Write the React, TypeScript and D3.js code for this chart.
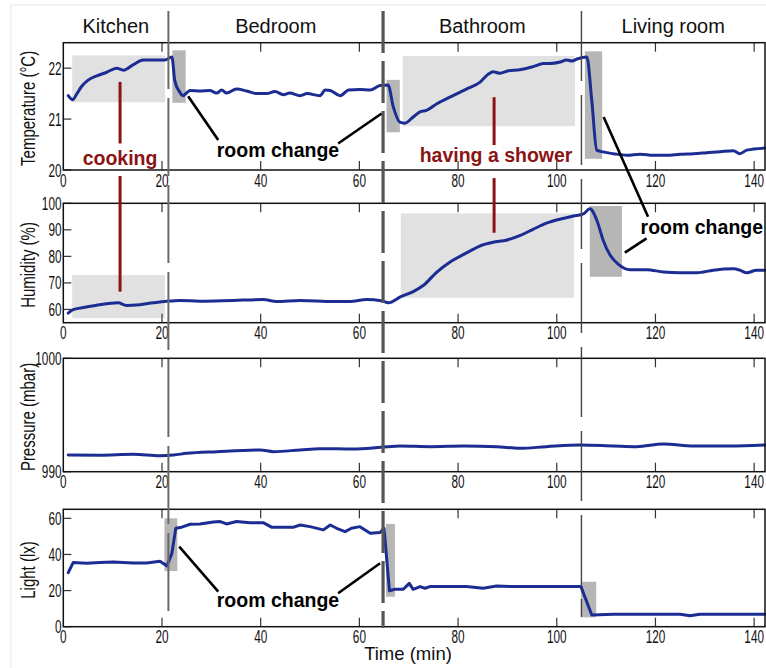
import { useEffect } from 'react';
import * as d3 from 'd3';

// time axis (minutes)
const timeDomain = [0, 142.2];
const timeTicks = [0, 20, 40, 60, 80, 100, 120, 140];
const rooms = ['Kitchen', 'Bedroom', 'Bathroom', 'Living room'];
const roomChanges = [21.3, 64.8, 105.0];

// [minute, value] samples
const temperature: [number, number][] = [
  [1.0, 21.46], [1.9, 21.38], [2.7, 21.49], [3.7, 21.64], [5.1, 21.77], [6.8, 21.85], [8.8, 21.92],
  [10.8, 22.0], [12.2, 21.96], [14.2, 22.07], [16.2, 22.16], [18.2, 22.16], [20.6, 22.16], [22.0, 22.22],
  [22.6, 21.75], [23.6, 21.53], [24.2, 21.46], [25.7, 21.56], [27.7, 21.55], [29.7, 21.56], [31.1, 21.51],
  [32.1, 21.57], [33.1, 21.51], [35.1, 21.59], [37.2, 21.55], [39.2, 21.5], [41.2, 21.5], [42.9, 21.54],
  [44.6, 21.48], [45.9, 21.51], [48.0, 21.46], [49.4, 21.5], [52.0, 21.46], [53.1, 21.57], [54.1, 21.56],
  [56.1, 21.46], [57.8, 21.57], [60.1, 21.58], [62.2, 21.57], [64.2, 21.66], [65.8, 21.67], [66.9, 21.23],
  [68.2, 20.94], [69.2, 20.92], [70.9, 21.04], [72.3, 21.14], [73.6, 21.17], [75.7, 21.3], [79.0, 21.46],
  [81.7, 21.59], [84.4, 21.72], [86.1, 21.88], [87.1, 21.93], [88.5, 21.9], [90.2, 21.95], [92.5, 21.97],
  [95.2, 22.03], [97.3, 22.09], [98.6, 22.09], [100.7, 22.12], [102.0, 22.16], [103.1, 22.14], [104.1, 22.18],
  [106.1, 22.22], [107.1, 21.36], [108.1, 20.39], [109.1, 20.36], [111.5, 20.32], [114.2, 20.29], [116.9, 20.31],
  [119.6, 20.29], [122.3, 20.29], [125.0, 20.31], [127.7, 20.32], [130.4, 20.34], [133.1, 20.36], [135.8, 20.38],
  [137.1, 20.32], [138.5, 20.39], [142.2, 20.43],
];

const humidity: [number, number][] = [
  [1.0, 58.6], [2.0, 59.9], [4.7, 60.9], [7.4, 61.8], [11.1, 62.5], [12.8, 61.5], [15.5, 61.8], [18.2, 62.5],
  [21.0, 63.1], [23.6, 63.4], [27.7, 63.1], [34.4, 63.4], [40.5, 63.7], [43.2, 63.0], [48.0, 63.4], [54.7, 63.0],
  [58.1, 63.0], [61.5, 63.7], [64.4, 63.3], [65.9, 62.5], [68.3, 64.7], [71.0, 66.8], [73.0, 69.1], [75.7, 74.1],
  [78.4, 77.9], [81.7, 81.3], [84.4, 83.9], [87.1, 85.3], [89.8, 86.1], [92.5, 87.8], [95.2, 90.2], [97.9, 92.5],
  [100.6, 94.0], [103.4, 95.2], [105.4, 96.0], [106.7, 97.9], [108.1, 93.7], [109.4, 86.1], [110.8, 80.5],
  [112.5, 77.0], [114.8, 75.0], [118.2, 75.0], [121.6, 74.1], [125.0, 73.8], [128.4, 73.8], [131.7, 74.8],
  [135.8, 75.3], [137.1, 74.8], [138.5, 73.8], [140.5, 74.8], [142.2, 74.8],
];

const pressure: [number, number][] = [
  [1.0, 991.47], [7.4, 991.45], [14.2, 991.53], [19.6, 991.41], [22.3, 991.47], [25.0, 991.62], [31.1, 991.77],
  [39.9, 991.92], [42.6, 991.77], [48.0, 991.92], [52.0, 992.03], [58.8, 992.0], [64.4, 992.15], [68.3, 992.27],
  [74.4, 992.21], [81.1, 992.27], [87.8, 992.21], [92.5, 992.06], [97.9, 992.21], [104.7, 992.36], [111.5, 992.27],
  [116.2, 992.21], [121.6, 992.44], [127.7, 992.27], [135.1, 992.27], [142.2, 992.36],
];

const light: [number, number][] = [
  [1.0, 29.9], [2.0, 35.5], [4.7, 35.1], [7.4, 35.5], [10.1, 35.8], [14.2, 35.3], [16.9, 35.3], [19.6, 36.2],
  [21.0, 33.6], [22.0, 40.6], [22.8, 54.5], [24.0, 55.1], [25.7, 56.7], [27.7, 56.9], [30.4, 58.0], [31.8, 58.2],
  [33.1, 56.9], [35.1, 58.2], [37.8, 57.6], [40.5, 57.6], [42.2, 55.1], [45.3, 55.1], [46.7, 55.1], [48.0, 56.3],
  [50.0, 55.4], [52.7, 53.6], [54.1, 56.3], [55.4, 54.5], [57.1, 52.6], [58.4, 54.5], [60.1, 55.4], [62.2, 51.7],
  [64.2, 52.1], [65.0, 54.5], [66.1, 19.9], [67.2, 20.7], [68.9, 20.7], [70.1, 24.0], [70.9, 20.7], [72.3, 22.2],
  [73.3, 21.3], [74.3, 22.2], [77.7, 22.2], [81.7, 22.2], [85.1, 21.3], [87.8, 22.5], [91.2, 22.2], [94.6, 22.2],
  [97.9, 22.2], [104.9, 22.2], [107.1, 6.5], [111.5, 6.9], [118.2, 6.9], [125.0, 6.9], [127.0, 6.1], [129.0, 6.9],
  [142.2, 6.9],
];

const tempTicks = [20, 21, 22];
const humidityTicks = [60, 70, 80, 90, 100];
const pressureTicks = [990, 1000];
const lightTicks = [0, 20, 40, 60];

// shaded windows: [panel, t0, t1, v0, v1]
const activityWindows = [
  [0, 1.8, 20.6, 21.33, 22.25],
  [0, 68.8, 103.7, 20.86, 22.24],
  [1, 1.8, 20.6, 56.7, 73.0],
  [1, 68.4, 103.5, 64.4, 96.2],
];
const transitionWindows = [
  [0, 22.1, 24.8, 21.32, 22.35],
  [0, 65.5, 68.2, 20.74, 21.77],
  [0, 105.7, 109.2, 20.22, 22.33],
  [1, 106.7, 113.2, 72.3, 99.0],
  [3, 20.5, 23.1, 30.8, 60.0],
  [3, 65.4, 67.2, 16.6, 56.9],
  [3, 104.9, 108.0, 5.2, 24.9],
];

// callouts: [panel, t, v] endpoints
const roomChangeLinks = [
  [[0, 25.3, 21.45], [0, 31.4, 20.59]],
  [[0, 64.5, 21.11], [0, 55.7, 20.52]],
  [[0, 109.5, 21.04], [1, 118.5, 94.96]],
  [[1, 113.8, 81.4], [1, 118.2, 86.8]],
  [[3, 23.5, 44.3], [3, 31.4, 19.4]],
  [[3, 64.2, 35.1], [3, 55.7, 18.5]],
];
const roomChangeLabels = [[0, 43.5, 20.25], [1, 129.4, 88.4], [3, 43.5, 10.9]];
const activityLinks = [
  [[0, 11.5, 21.73], [0, 11.5, 20.52]],
  [[1, 11.5, 110.3], [1, 11.5, 66.7]],
  [[0, 87.3, 21.43], [0, 87.3, 20.49]],
  [[1, 87.3, 109.5], [1, 87.3, 88.9]],
];
const activityLabels: [string, number, number, number][] = [
  ['cooking', 0, 11.5, 20.1],
  ['having a shower', 0, 87.7, 20.16],
];

const FONT = 'Liberation Sans, Arial, Helvetica, sans-serif';
const LINE = '#1b2d92';
const RED = '#8a1414';

function Narrow({ x, y, size, sx = 0.62, anchor = 'middle', rotate = 0, children }: any) {
  return (
    <text
      transform={`translate(${x},${y}) rotate(${rotate}) scale(${sx},1)`}
      fontFamily={FONT}
      fontSize={size}
      textAnchor={anchor}
      fill="#111"
    >
      {children}
    </text>
  );
}

export default function App() {
  useEffect(() => {
    document.body.style.margin = '0';
  }, []);

  const width = 766;
  const height = 668;
  const left = 63.3;
  const right = 765;

  const x = d3.scaleLinear().domain(timeDomain).range([left, right]);

  const panels = [
    { top: 42.7, bottom: 170, data: temperature, domain: [20, 22.5], ticks: tempTicks, title: 'Temperature (°C)', smooth: true },
    { top: 203.3, bottom: 322.7, data: humidity, domain: [55, 100], ticks: humidityTicks, title: 'Humidity (%)', smooth: true },
    { top: 358.3, bottom: 471.7, data: pressure, domain: [990, 1000], ticks: pressureTicks, title: 'Pressure (mbar)', smooth: true },
    { top: 509.3, bottom: 626.7, data: light, domain: [0, 65], ticks: lightTicks, title: 'Light (lx)', smooth: false },
  ];
  const ys = panels.map(p => d3.scaleLinear().domain(p.domain).range([p.bottom, p.top]));
  const pt = (p: any) => [x(p[1]), ys[p[0]](p[2])];

  const dividerStyles = [
    { stroke: '#6a6a6a', width: 2, dash: '78 9', y1: 11, y2: 616 },
    { stroke: '#555', width: 3.2, dash: '42 8', y1: 11, y2: 628 },
    { stroke: '#444', width: 1.4, dash: '70 14', y1: 11, y2: 617 },
  ];

  const roomEdges = [0, ...roomChanges, timeDomain[1]];

  return (
    <svg width={width} height={height} style={{ display: 'block', background: '#fff' }}>
      <rect x={11} y={5} width={800} height={700} fill="none" stroke="#e8e8e8" strokeWidth={1} />

      {/* room labels */}
      {rooms.map((r, i) => (
        <text
          key={r}
          x={x((roomEdges[i] + roomEdges[i + 1]) / 2)}
          y={33}
          textAnchor="middle"
          fontFamily={FONT}
          fontSize={20}
          fill="#111"
        >
          {r}
        </text>
      ))}

      {panels.map((p, i) => {
        const y = ys[i];
        const line = d3.line<[number, number]>()
          .x(d => x(d[0]))
          .y(d => y(d[1]))
          .curve(p.smooth ? d3.curveMonotoneX : d3.curveLinear);
        return (
          <g key={p.title}>
            {activityWindows.filter(w => w[0] === i).map((w, k) => (
              <rect key={'a' + k} x={x(w[1])} y={y(w[4])} width={x(w[2]) - x(w[1])}
                height={y(w[3]) - y(w[4])} fill="#e1e1e1" />
            ))}
            {transitionWindows.filter(w => w[0] === i).map((w, k) => (
              <rect key={'t' + k} x={x(w[1])} y={y(w[4])} width={x(w[2]) - x(w[1])}
                height={y(w[3]) - y(w[4])} fill="#b6b6b6" />
            ))}

            {/* ticks */}
            {timeTicks.filter(t => t > 0).map(t => (
              <g key={t} stroke="#333" strokeWidth={1.2}>
                <line x1={x(t)} x2={x(t)} y1={p.top} y2={p.top + 9} />
                <line x1={x(t)} x2={x(t)} y1={p.bottom} y2={p.bottom - 9} />
              </g>
            ))}
            {p.ticks.map(v => (
              <line key={v} x1={left} x2={left + 8} y1={y(v)} y2={y(v)} stroke="#333" strokeWidth={1.2} />
            ))}

            <path d={line(p.data as [number, number][]) || ''} fill="none" stroke={LINE}
              strokeWidth={3} strokeLinejoin="round" strokeLinecap="round" />

            <rect x={left} y={p.top} width={right - left} height={p.bottom - p.top}
              fill="none" stroke="#111" strokeWidth={1.5} />

            {timeTicks.map(t => (
              <Narrow key={t} x={x(t)} y={p.bottom + 16.5} size={19}>{t}</Narrow>
            ))}
            {p.ticks.map(v => (
              <Narrow key={v} x={61.5} y={y(v) + 6.5} size={19} anchor="end">{v}</Narrow>
            ))}
            <Narrow x={35} y={(p.top + p.bottom) / 2 + 2} size={20} sx={0.75} rotate={-90}>{p.title}</Narrow>
          </g>
        );
      })}

      {/* room change dividers */}
      {roomChanges.map((t, i) => {
        const s = dividerStyles[i];
        return (
          <line key={t} x1={x(t)} x2={x(t)} y1={s.y1} y2={s.y2} stroke={s.stroke}
            strokeWidth={s.width} strokeDasharray={s.dash} />
        );
      })}

      {/* activity callouts */}
      {activityLinks.map((l, k) => {
        const a = pt(l[0]);
        const b = pt(l[1]);
        return <line key={k} x1={a[0]} y1={a[1]} x2={b[0]} y2={b[1]} stroke={RED} strokeWidth={3} />;
      })}
      {activityLabels.map(([label, p, t, v]) => (
        <text key={label} x={x(t)} y={ys[p](v)} textAnchor="middle" fontFamily={FONT}
          fontWeight="bold" fontSize={19.5} fill={RED}>{label}</text>
      ))}

      {/* room change callouts */}
      {roomChangeLinks.map((l, k) => {
        const a = pt(l[0]);
        const b = pt(l[1]);
        return <line key={k} x1={a[0]} y1={a[1]} x2={b[0]} y2={b[1]} stroke="#000" strokeWidth={2.6} />;
      })}
      {roomChangeLabels.map((l, k) => (
        <text key={k} x={x(l[1])} y={ys[l[0]](l[2])} textAnchor="middle" fontFamily={FONT}
          fontWeight="bold" fontSize={19.5} fill="#000">room change</text>
      ))}

      <text x={408} y={660} textAnchor="middle" fontFamily={FONT} fontSize={18.5}
        fill="#111">Time (min)</text>
    </svg>
  );
}
